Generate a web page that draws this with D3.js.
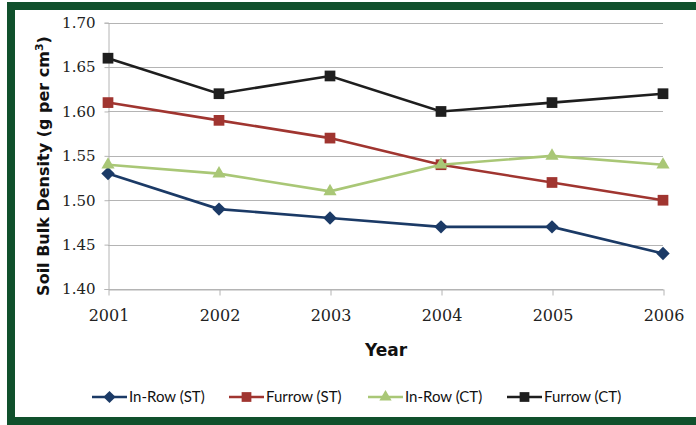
<html>
  <head>
    <meta charset="utf-8">
    <script src="https://cdn.jsdelivr.net/npm/d3@7"></script>
    <style>
      body { margin: 0; background: #fff; }
    </style>
  </head>
  <body>
    <script>
      var w = 696;
      var h = 425;

      var years = ["2001", "2002", "2003", "2004", "2005", "2006"];
      var inRowST = [1.53, 1.49, 1.48, 1.47, 1.47, 1.44];
      var furrowST = [1.61, 1.59, 1.57, 1.54, 1.52, 1.50];
      var inRowCT = [1.54, 1.53, 1.51, 1.54, 1.55, 1.54];
      var furrowCT = [1.66, 1.62, 1.64, 1.60, 1.61, 1.62];
      var yTicks = [1.40, 1.45, 1.50, 1.55, 1.60, 1.65, 1.70];

      var series = [
        {name: "In-Row (ST)", values: inRowST, color: "#1b3a66", marker: d3.symbolDiamond2},
        {name: "Furrow (ST)", values: furrowST, color: "#a03530", marker: d3.symbolSquare},
        {name: "In-Row (CT)", values: inRowCT, color: "#a9c776", marker: d3.symbolTriangle},
        {name: "Furrow (CT)", values: furrowCT, color: "#1e1e1e", marker: d3.symbolSquare}
      ];

      var svg = d3.select("body").append("svg")
        .attr("width", w).attr("height", h);

      // cadre vert
      var green = "#10502c";
      svg.append("rect").attr("x", 7).attr("y", 2).attr("width", w - 7).attr("height", 8).attr("fill", green);
      svg.append("rect").attr("x", 7).attr("y", 2).attr("width", 8).attr("height", h - 2).attr("fill", green);
      svg.append("rect").attr("x", 7).attr("y", 417).attr("width", w - 7).attr("height", 8).attr("fill", green);

      var x = d3.scalePoint().domain(years).range([108, 663]);
      var y = d3.scaleLinear().domain([1.40, 1.70]).range([289, 22.7]);

      // grille
      svg.append("g").selectAll("line")
        .data(yTicks)
        .enter().append("line")
          .attr("x1", 108).attr("x2", 663)
          .attr("y1", function(d) { return Math.round(y(d)) + 0.5; })
          .attr("y2", function(d) { return Math.round(y(d)) + 0.5; })
          .attr("stroke", "#b4b4b4").attr("stroke-width", 1);

      // axe y
      var yAxis = svg.append("g")
        .attr("transform", "translate(108.5,0)")
        .call(d3.axisLeft(y).tickValues(yTicks).tickFormat(d3.format(".2f")).tickSize(4).tickPadding(9));
      yAxis.select(".domain").attr("stroke", "#b4b4b4");
      yAxis.selectAll(".tick line").attr("stroke", "#b4b4b4");
      yAxis.selectAll("text")
        .attr("font-family", "DejaVu Serif").attr("font-size", 15).attr("fill", "#222");

      // axe x
      var xAxis = svg.append("g")
        .attr("transform", "translate(0.5," + (Math.round(y(1.40)) + 0.5) + ")")
        .call(d3.axisBottom(x).tickSize(6).tickSizeOuter(0).tickPadding(14));
      xAxis.select(".domain").attr("stroke", "#b4b4b4");
      xAxis.selectAll(".tick line").attr("stroke", "#b4b4b4");
      xAxis.selectAll("text")
        .attr("font-family", "DejaVu Serif").attr("font-size", 16).attr("fill", "#222");

      // titres
      svg.append("text")
        .attr("x", 386).attr("y", 356)
        .attr("text-anchor", "middle")
        .attr("font-family", "DejaVu Sans").attr("font-weight", "bold").attr("font-size", 17)
        .attr("fill", "#111")
        .text("Year");

      var yt = svg.append("text")
        .attr("transform", "translate(49,166) rotate(-90)")
        .attr("text-anchor", "middle")
        .attr("font-family", "DejaVu Sans").attr("font-weight", "bold").attr("font-size", 16)
        .attr("fill", "#111");
      yt.append("tspan").text("Soil Bulk Density (g per cm");
      yt.append("tspan").attr("font-size", 11).attr("dy", -6).text("3");
      yt.append("tspan").attr("dy", 6).text(")");

      // lignes
      var line = d3.line()
        .x(function(d, i) { return x(years[i]); })
        .y(function(d) { return y(d); });

      series.forEach(function(s) {
        svg.append("path")
          .attr("d", line(s.values))
          .attr("fill", "none")
          .attr("stroke", s.color)
          .attr("stroke-width", 2.6);

        svg.append("g").selectAll("path")
          .data(s.values)
          .enter().append("path")
            .attr("transform", function(d, i) { return "translate(" + x(years[i]) + "," + y(d) + ")"; })
            .attr("d", d3.symbol().type(s.marker).size(s.marker === d3.symbolTriangle ? 75 : 115))
            .attr("fill", s.color);
      });

      // légende
      var legX = [92, 229, 368, 507];
      var leg = svg.append("g").selectAll("g")
        .data(series)
        .enter().append("g")
          .attr("transform", function(d, i) { return "translate(" + legX[i] + ",397)"; });
      leg.append("line")
        .attr("x1", 0).attr("x2", 35)
        .attr("stroke", function(d) { return d.color; })
        .attr("stroke-width", 2.6);
      leg.append("path")
        .attr("transform", "translate(17.5,0)")
        .attr("d", function(d) { return d3.symbol().type(d.marker).size(d.marker === d3.symbolTriangle ? 65 : 95)(); })
        .attr("fill", function(d) { return d.color; });
      leg.append("text")
        .attr("x", 37).attr("dy", "0.35em")
        .attr("font-family", "Lato").attr("font-size", 15).attr("fill", "#111")
        .text(function(d) { return d.name; });
    </script>
  </body>
</html>
